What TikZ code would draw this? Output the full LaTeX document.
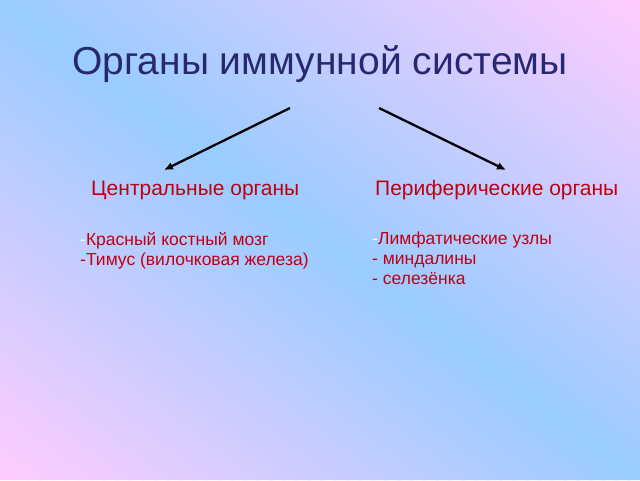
\documentclass[tikz,border=0pt]{standalone}
\usepackage{fontspec}
\setmainfont{Liberation Sans}
\usetikzlibrary{arrows.meta}
\definecolor{bgpink}{RGB}{255,204,255}
\definecolor{bgblue}{RGB}{153,204,255}
\definecolor{titlecol}{RGB}{40,40,112}
\definecolor{redtxt}{RGB}{192,0,16}
\tikzset{
  titletext/.style={inner sep=0pt, anchor=base, text=titlecol, font=\fontsize{39}{46}\selectfont},
  headtext/.style={inner sep=0pt, anchor=base west, text=redtxt, font=\fontsize{21}{25}\selectfont},
  itemtext/.style={inner sep=0pt, anchor=base west, text=redtxt, font=\fontsize{17.5}{21}\selectfont},
  branch/.style={line width=2.3pt, -{Latex[length=9pt,width=8pt]}, black},
}
\begin{document}
\begin{tikzpicture}[x=1pt,y=-1pt]
\useasboundingbox (0,0) rectangle (640,480);
\begin{scope}
\clip (0,0) rectangle (640,480);
\foreach \i in {0,...,99}{
  \pgfmathsetmacro{\sa}{\i/50}
  \pgfmathsetmacro{\sb}{(\i+1.3)/50}
  \pgfmathsetmacro{\sm}{(\i+0.5)/50}
  \pgfmathsetmacro{\p}{\sm<1 ? \sm*100 : (2-\sm)*100}
  \colorlet{stripcol}{bgblue!\p!bgpink}
  \fill[stripcol] ({\sa*640},480) -- ({\sb*640},480) -- (0,{480-\sb*480}) -- (0,{480-\sa*480}) -- cycle;
}
\end{scope}

\node[titletext] (title) at (320,74) {Органы иммунной системы};

\coordinate (ls) at (290,108);
\coordinate (le) at (164,170);
\coordinate (rs) at (379,108);
\coordinate (re) at (506,170);
\draw[branch] (ls) -- (le);
\draw[branch] (rs) -- (re);

\node[headtext] (central) at (91,195) {Центральные органы};
\node[headtext] (periph) at (375,195) {Периферические органы};

\node[itemtext] (c1) at (80,245) {{\color{white}-}Красный костный мозг};
\node[itemtext] (c2) at (80,265) {-Тимус (вилочковая железа)};

\node[itemtext] (p1) at (372,244) {{\color{white}-}Лимфатические узлы};
\node[itemtext] (p2) at (372,264) {- миндалины};
\node[itemtext] (p3) at (372,284) {- селезёнка};
\end{tikzpicture}
\end{document}
